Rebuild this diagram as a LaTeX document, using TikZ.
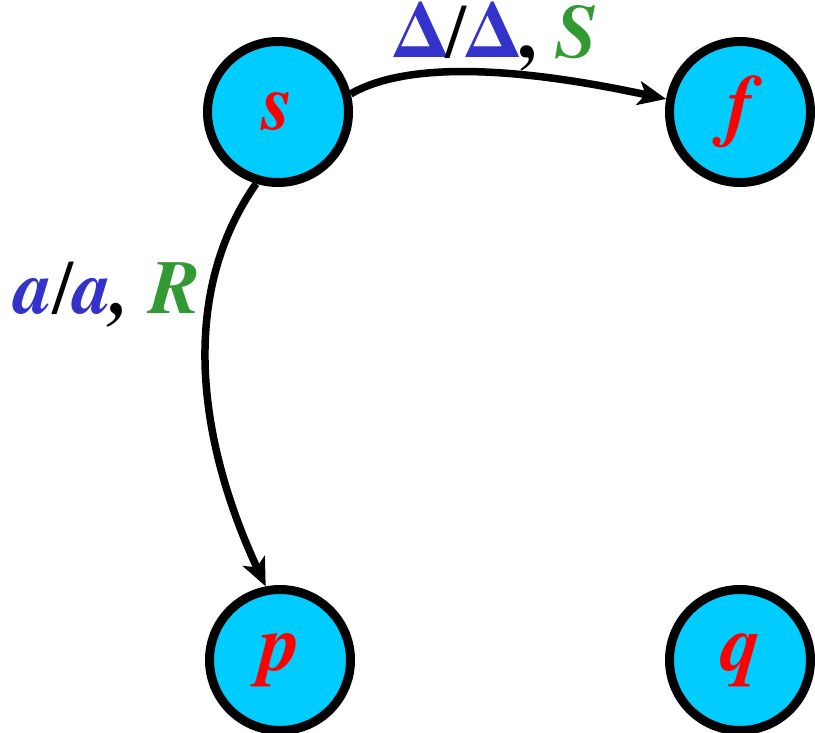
\documentclass[tikz,border=0pt]{standalone}
\usepackage{fontspec}
\setmainfont{texgyretermes}[Extension=.otf, UprightFont=*-regular, BoldFont=*-bold, ItalicFont=*-italic, BoldItalicFont=*-bolditalic]
\usepackage{tikz}
\usetikzlibrary{arrows.meta}

\definecolor{stfill}{HTML}{00CCFF}
\definecolor{symblue}{HTML}{3333CC}
\definecolor{movegreen}{HTML}{339933}

\tikzset{
    state/.style={circle, draw=black, line width=9pt, fill=stfill, minimum size=141pt, inner sep=0pt,
        text=red, font=\fontsize{80}{80}\selectfont\bfseries\itshape},
    trans/.style={line width=7.5pt, -{Stealth[length=28pt, width=24pt, inset=7pt]}},
    tlabel/.style={font=\fontsize{76}{76}\selectfont\bfseries, anchor=base}
}

\begin{document}
\begin{tikzpicture}[x=1pt, y=1pt]
            \useasboundingbox (0,0) rectangle (815,-732);
            % states
            \node[state] (s) at (278,-112) {s};
            \node[state] (f) at (740,-112) {f};
            \node[state] (p) at (280,-660) {p};
            \node[state] (q) at (740,-660) {q};
            % transitions
            \draw[trans] (s.14) to[out=30, in=168, looseness=0.7] (f.170);
            \draw[trans] (s.-107) to[out=-125, in=115, looseness=0.92] (p.101);
            \node[tlabel] (lsf) at (497,-57) {\textcolor{symblue}{Δ}\textmd{/}\textcolor{symblue}{Δ}, \textcolor{movegreen}{\itshape S}};
            \node[tlabel] (lsp) at (107,-313) {\itshape\textcolor{symblue}{a}\textmd{\upshape/}\textcolor{symblue}{a}, \textcolor{movegreen}{R}};
        \end{tikzpicture}
\end{document}
